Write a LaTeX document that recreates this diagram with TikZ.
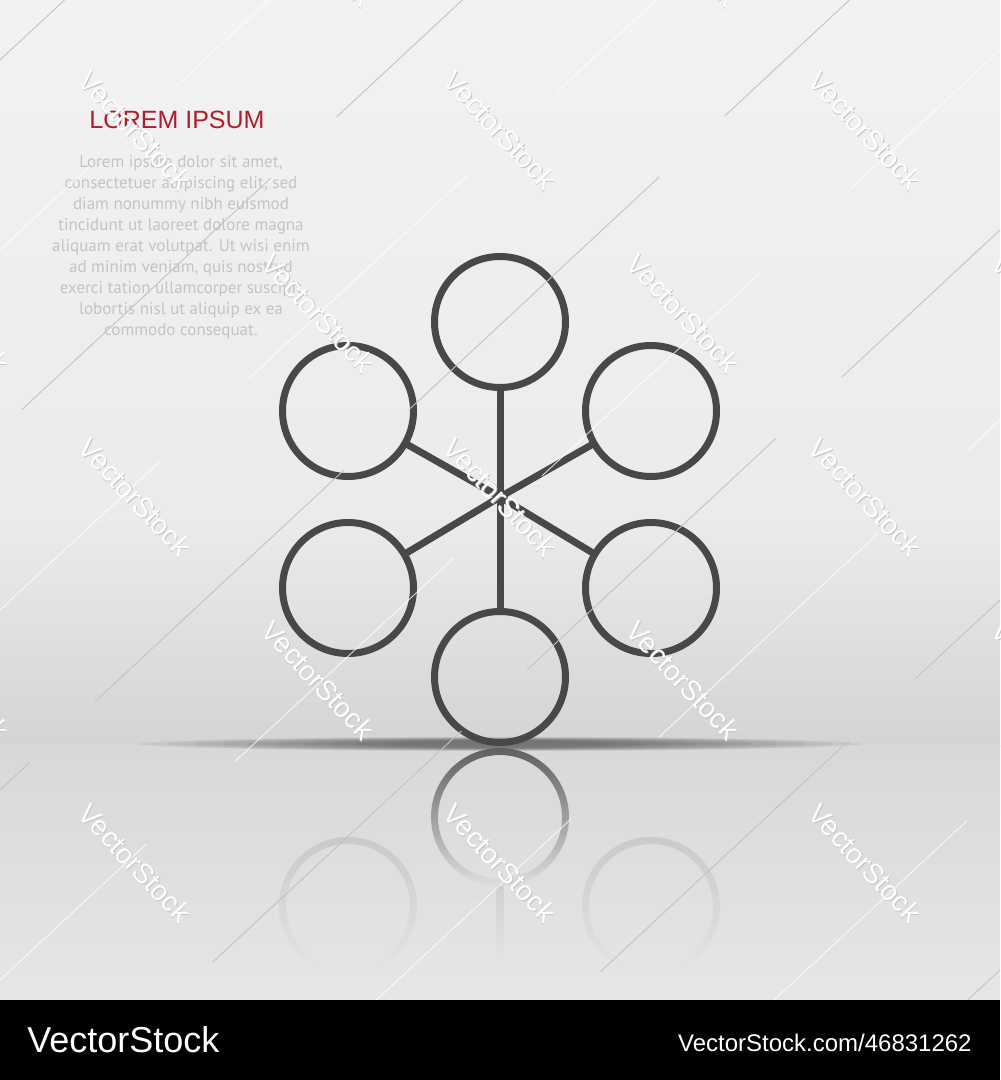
\documentclass[tikz,border=0pt]{standalone}
\usepackage{fontspec}
\setmainfont{Liberation Sans}
\newfontfamily\bodyfont{PT Sans}
\definecolor{ringgray}{HTML}{484848}
\definecolor{loremred}{HTML}{B01C2E}
\definecolor{bodygray}{HTML}{C4C4C4}
\definecolor{wmgray}{HTML}{C6C6C6}
\definecolor{linedark}{HTML}{C2C2C2}
\begin{document}
\begin{tikzpicture}[x=0.5pt,y=-0.5pt,
  ring/.style={circle, draw=ringgray, line width=3.5pt, minimum size=65.5pt, inner sep=0pt, outer sep=0pt},
  spoke/.style={draw=ringgray, line width=3.5pt},
  wmtext/.style={font=\fontsize{14}{14}\selectfont, text=white, rotate=-47, inner sep=0pt},
  wmshade/.style={font=\fontsize{14}{14}\selectfont, text=wmgray, rotate=-47, inner sep=0pt},
  thinline/.style={line width=0.45pt},
  refl/.style={even odd rule}]
\useasboundingbox (0,0) rectangle (1000,1080);
\clip (0,0) rectangle (1000,1080);
% background
\shade[top color={rgb,255:red,242;green,242;blue,242}, bottom color={rgb,255:red,235;green,235;blue,235}] (0,0) rectangle (1000,521);
\shade[top color={rgb,255:red,235;green,235;blue,235}, bottom color={rgb,255:red,212;green,212;blue,212}] (0,520) rectangle (1000,746);
\shade[top color={rgb,255:red,216;green,216;blue,216}, bottom color={rgb,255:red,230;green,230;blue,230}] (0,745) rectangle (1000,1000);
% horizon shadow
\foreach \i in {0,...,9}
  \fill[black, opacity=0.055] (500,744) ellipse [x radius={360-27*\i}, y radius={7-0.35*\i}];
% reflections
\shade[refl, top color={rgb,255:red,95;green,95;blue,95}, bottom color={rgb,255:red,222;green,222;blue,222}]
  (500,817) circle[radius=69] (500,817) circle[radius=62];
\shade[refl, top color={rgb,255:red,202;green,202;blue,202}, bottom color={rgb,255:red,229;green,229;blue,229}]
  (348,906) circle[radius=69] (348,906) circle[radius=62];
\shade[refl, top color={rgb,255:red,202;green,202;blue,202}, bottom color={rgb,255:red,229;green,229;blue,229}]
  (651,906) circle[radius=69] (651,906) circle[radius=62];
\shade[top color={rgb,255:red,208;green,208;blue,208}, bottom color={rgb,255:red,228;green,228;blue,228}]
  (496.5,886) rectangle (503.5,960);
% diagram
\coordinate (hub) at (500,497);
\node[ring] (top) at (500,322) {};
\node[ring] (upleft) at (348,411) {};
\node[ring] (upright) at (651,411) {};
\node[ring] (lowleft) at (348,588) {};
\node[ring] (lowright) at (651,588) {};
\node[ring] (bottom) at (500,677) {};
\foreach \n in {top,upleft,upright,lowleft,lowright,bottom}
  \draw[spoke] (hub) -- (\n);
% title and body text
\node[text=loremred, font=\fontsize{12.5}{14}\selectfont, inner sep=0pt] (title) at (177,120) {LOREM IPSUM};
\node[text=bodygray, font=\bodyfont\fontsize{8.5}{10.5}\selectfont, align=center, inner sep=0pt] (body) at (181,247)
  {Lorem ipsum dolor sit amet,\\ consectetuer adipiscing elit, sed\\ diam nonummy nibh euismod\\ tincidunt ut laoreet dolore magna\\ aliquam erat volutpat. Ut wisi enim\\ ad minim veniam, quis nostrud\\ exerci tation ullamcorper suscipit\\ lobortis nisl ut aliquip ex ea\\ commodo consequat.};
% watermark lines
\begin{scope}
\clip (0,0) rectangle (1000,1000);
\foreach \c/\ph [count=\k] in {60/0,250/90,430/200,610/40,790/150,980/260,1160/70,1350/180,1530/20,1720/120,1900/230}{
  \ifodd\k
    \draw[thinline, draw=linedark, dash pattern=on 170pt off 45pt, dash phase=\ph pt] (0,\c) -- (1000,{\c-930});
  \else
    \draw[thinline, draw=white, opacity=0.8, dash pattern=on 150pt off 60pt, dash phase=\ph pt] (0,\c) -- (1000,{\c-930});
  \fi
}
\end{scope}
% watermark text (only those that show on the page)
\foreach \wx/\wy [count=\k] in {317/-53,682/-53,135/130,500/130,865/130,-47/313,318/313,683/313,1048/313,135/497,500/497,865/497,-47/680,318/680,683/680,1048/680,135/863,500/863,865/863}{
    \node[wmshade] (ws-\k) at (\wx+0.9,\wy+0.9) {VectorStock};
    \node[wmtext] (wm-\k) at (\wx,\wy) {VectorStock};
}
% bottom bar
\fill[black] (0,1000) rectangle (1000,1080);
\node[text=white, font=\fontsize{18}{18}\selectfont, anchor=base west, inner sep=0pt] (brand) at (27,1052) {VectorStock};
\node[text=white, font=\fontsize{12}{12}\selectfont, anchor=base east, inner sep=0pt] (url) at (972,1051) {VectorStock.com/46831262};
\end{tikzpicture}
\end{document}
